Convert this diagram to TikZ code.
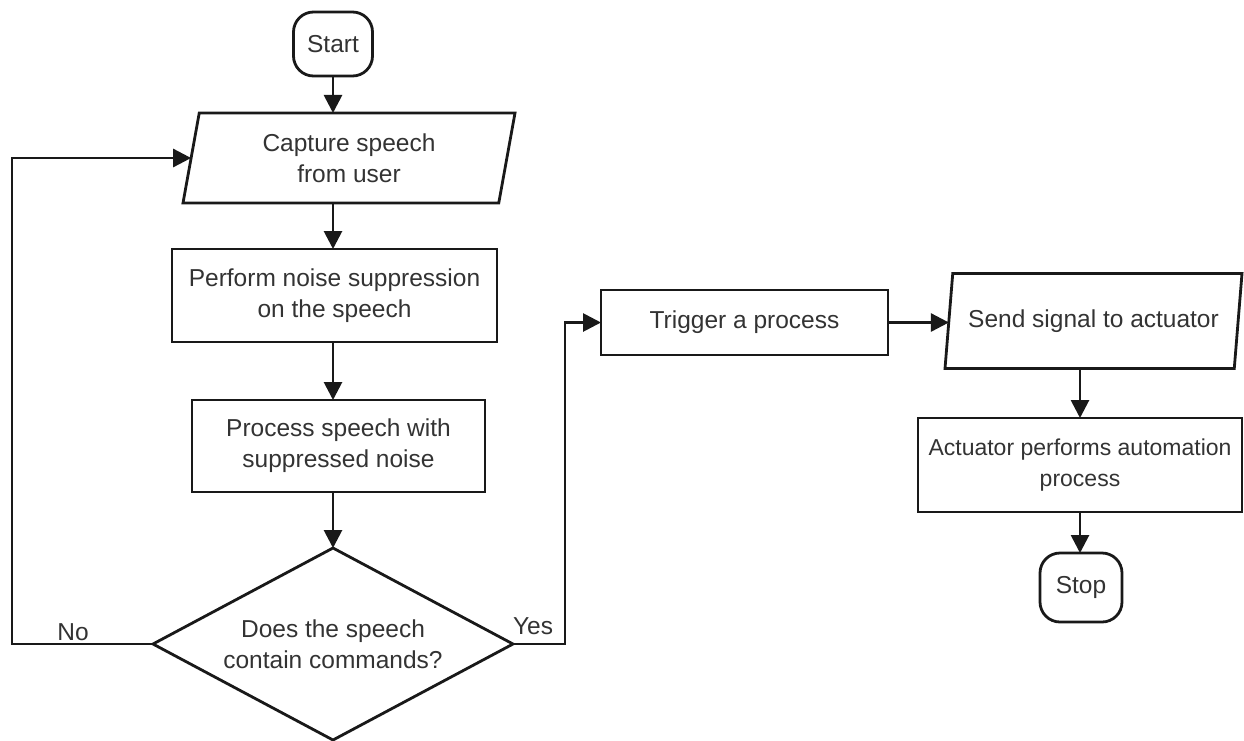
\documentclass[tikz,border=0pt]{standalone}
\usepackage{fontspec}
\setmainfont{Liberation Sans}
\usetikzlibrary{shapes.geometric,arrows.meta}
\begin{document}
\begin{tikzpicture}[x=1pt,y=-1pt,
  base/.style={draw=black!90, line width=2.8pt, align=center, inner sep=0.5pt, outer sep=0pt, font=\fontsize{24.5}{31}\selectfont, text=black!80},
  term/.style={base, rounded corners=20pt},
  procbox/.style={base, rectangle},
  io/.style={base, trapezium, trapezium left angle=72, trapezium right angle=108, trapezium stretches body},
  dec/.style={base, diamond, aspect=1.875},
  arr/.style={line width=2.8pt, draw=black!90, -{Triangle[length=18pt,width=18pt]}},
  lbl/.style={font=\fontsize{24.5}{28}\selectfont, text=black!80, inner sep=0pt}
]
\useasboundingbox (0,0) rectangle (1244,740);
\node[term, minimum width=79pt, minimum height=64pt] (start) at (333,44) {Start};
\node[io, minimum width=332pt, minimum height=90pt] (cap) at (349,158) {Capture speech\\from user};
\node[procbox, minimum width=325pt, minimum height=93pt] (noise) at (334.5,295.5) {Perform noise suppression\\on the speech};
\node[procbox, minimum width=293pt, minimum height=92pt] (procs) at (338.5,446) {Process speech with\\suppressed noise};
\node[dec, minimum width=360pt, minimum height=192pt] (dec) at (333,644) {Does the speech\\contain commands?};
\node[procbox, minimum width=287pt, minimum height=65pt] (trig) at (744.5,322.5) {Trigger a process};
\node[io, minimum width=297pt, minimum height=95pt] (send) at (1093.5,321) {Send signal to actuator};
\node[procbox, minimum width=324pt, minimum height=94pt, font=\fontsize{23}{31}\selectfont] (act) at (1080,465) {Actuator performs automation\\process};
\node[term, minimum width=82pt, minimum height=69pt] (stop) at (1081,587.5) {Stop};
\coordinate (lx) at (12,0);
\coordinate (rx) at (565,0);
\node[lbl] (no) at (73,632) {No};
\node[lbl] (yes) at (533,626) {Yes};

\draw[arr] (start.south) -- (start.south |- cap.north);
\draw[arr] (start.south |- cap.south) -- (start.south |- noise.north);
\draw[arr] (start.south |- noise.south) -- (start.south |- procs.north);
\draw[arr] (start.south |- procs.south) -- (dec.north);
\draw[arr] (dec.west) -- (dec.west -| lx) |- (cap.west);
\draw[arr] (dec.east) -- (dec.east -| rx) |- (trig.west);
\draw[arr] (trig.east) -- (trig.east -| send.west);
\draw[arr] (send.south -| act.north) -- (act.north);
\draw[arr] (act.south) -- (act.south |- stop.north);
\end{tikzpicture}
\end{document}
